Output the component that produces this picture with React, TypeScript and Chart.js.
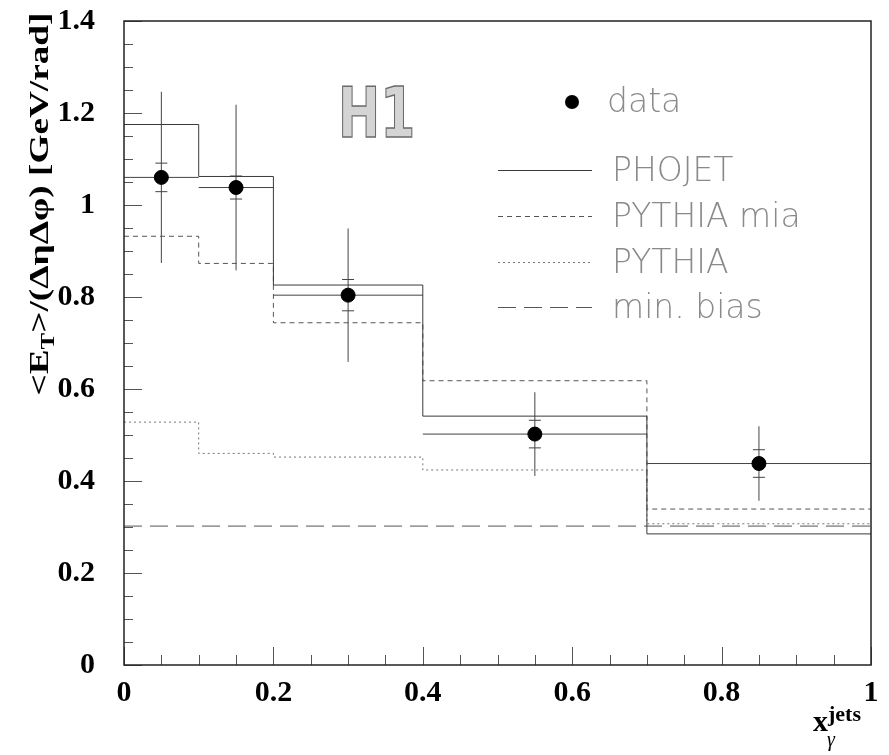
import React, { useEffect, useRef } from 'react';
import { Chart, registerables } from 'chart.js';

Chart.register(...registerables);

// ---- data ----
const binEdges = [0, 0.1, 0.2, 0.4, 0.7, 1.0];
const phojet = [1.175, 1.062, 0.826, 0.541, 0.285];
const pythiaMia = [0.932, 0.873, 0.744, 0.618, 0.339];
const pythia = [0.528, 0.46, 0.452, 0.424, 0.307];
const minBias = [0.302, 0.302, 0.302, 0.302, 0.302];

const dataX = [0.05, 0.15, 0.3, 0.55, 0.85];
const dataY = [1.06, 1.038, 0.804, 0.502, 0.438];
const statErr = [0.031, 0.025, 0.034, 0.03, 0.03];
const totErr = [0.186, 0.18, 0.145, 0.091, 0.081];

const xTickValues = [0, 0.2, 0.4, 0.6, 0.8, 1.0];
const yTickValues = [0, 0.2, 0.4, 0.6, 0.8, 1.0, 1.2, 1.4];
const seriesNames = ['data', 'PHOJET', 'PYTHIA mia', 'PYTHIA', 'min. bias'];

const histPoints = (vals: number[]) =>
  binEdges.map((e, i) => ({ x: e, y: vals[Math.min(i, vals.length - 1)] }));

const lineStyles = [
  { color: '#3a3a3a', dash: [] as number[], width: 1 },
  { color: '#555555', dash: [5, 4], width: 1 },
  { color: '#777777', dash: [2, 3], width: 1 },
  { color: '#555555', dash: [18, 8], width: 1 },
];

const fmt = (v: number) => String(Math.round(v * 10) / 10);

const decorPlugin = {
  id: 'decor',
  beforeDatasetsDraw(chart: any) {
    const ctx = chart.ctx;
    const xs = chart.scales.x;
    const ys = chart.scales.y;
    ctx.save();
    ctx.strokeStyle = '#444';
    ctx.lineWidth = 1;
    for (let i = 0; i < dataX.length; i++) {
      const px = xs.getPixelForValue(dataX[i]);
      const py = ys.getPixelForValue(dataY[i]);
      const xl = xs.getPixelForValue(binEdges[i]);
      const xh = xs.getPixelForValue(binEdges[i + 1]);
      const yt1 = ys.getPixelForValue(dataY[i] + totErr[i]);
      const yt0 = ys.getPixelForValue(dataY[i] - totErr[i]);
      const ys1 = ys.getPixelForValue(dataY[i] + statErr[i]);
      const ys0 = ys.getPixelForValue(dataY[i] - statErr[i]);
      ctx.beginPath();
      ctx.moveTo(xl, py); ctx.lineTo(xh, py);
      ctx.moveTo(px, yt1); ctx.lineTo(px, yt0);
      ctx.moveTo(px - 6, ys1); ctx.lineTo(px + 6, ys1);
      ctx.moveTo(px - 6, ys0); ctx.lineTo(px + 6, ys0);
      ctx.stroke();
    }
    ctx.restore();
  },
  afterDraw(chart: any) {
    const ctx = chart.ctx;
    const area = chart.chartArea;
    const xs = chart.scales.x;
    const ys = chart.scales.y;
    ctx.save();
    // ticks (inside)
    ctx.strokeStyle = '#555';
    ctx.lineWidth = 1;
    ctx.beginPath();
    for (let k = 0; k <= 28; k++) {
      const v = k * 0.05;
      const py = Math.round(ys.getPixelForValue(v)) + 0.5;
      const len = k % 4 === 0 ? 18 : 9;
      ctx.moveTo(area.left, py); ctx.lineTo(area.left + len, py);
    }
    for (let k = 0; k <= 20; k++) {
      const v = k * 0.05;
      const px = Math.round(xs.getPixelForValue(v)) + 0.5;
      const len = k % 4 === 0 ? 18 : 10;
      ctx.moveTo(px, area.bottom); ctx.lineTo(px, area.bottom - len);
    }
    ctx.stroke();
    // frame
    ctx.strokeStyle = '#222';
    ctx.lineWidth = 1.5;
    ctx.strokeRect(area.left, area.top, area.right - area.left, area.bottom - area.top);

    // H1 logo
    ctx.save();
    ctx.translate(338, 137);
    ctx.scale(0.72, 1);
    ctx.font = 'bold 70px "DejaVu Sans", "Liberation Sans", sans-serif';
    ctx.textBaseline = 'alphabetic';
    ctx.textAlign = 'left';
    ctx.fillStyle = '#d4d4d4';
    ctx.strokeStyle = '#6a6a6a';
    ctx.lineWidth = 1.4;
    ctx.fillText('H1', 0, 0);
    ctx.strokeText('H1', 0, 0);
    ctx.restore();

    // legend
    ctx.font = '200 33px "DejaVu Sans", "Liberation Sans", sans-serif';
    ctx.textBaseline = 'middle';
    ctx.textAlign = 'left';
    ctx.beginPath();
    ctx.fillStyle = '#000';
    ctx.arc(572, 102, 7, 0, Math.PI * 2);
    ctx.fill();
    ctx.fillStyle = '#8a8a8a';
    ctx.fillText(chart.data.datasets[0].label, 607, 103);
    const ly = [170, 216, 262, 307];
    for (let i = 0; i < 4; i++) {
      const st = lineStyles[i];
      ctx.strokeStyle = st.color;
      ctx.lineWidth = st.width;
      ctx.setLineDash(st.dash);
      ctx.beginPath();
      ctx.moveTo(498, ly[i] + 0.5);
      ctx.lineTo(592, ly[i] + 0.5);
      ctx.stroke();
      ctx.setLineDash([]);
      ctx.fillText(chart.data.datasets[i + 1].label, 612, ly[i] + 2);
    }

    // y-axis title (rotated)
    ctx.save();
    ctx.translate(48, 204);
    ctx.rotate(-Math.PI / 2);
    ctx.fillStyle = '#000';
    ctx.textBaseline = 'alphabetic';
    const big = 'bold 27px "Liberation Serif", "DejaVu Serif", serif';
    const small = 'bold 18px "Liberation Serif", "DejaVu Serif", serif';
    const parts = [
      { t: '<E', f: big, dy: 0 },
      { t: 'T', f: small, dy: 6 },
      { t: '>/(ΔηΔφ) [GeV/rad]', f: big, dy: 0 },
    ];
    let total = 0;
    for (const p of parts) { ctx.font = p.f; total += ctx.measureText(p.t).width; }
    const k = 383 / total;
    ctx.scale(k, 1);
    let cx = -total / 2;
    for (const p of parts) {
      ctx.font = p.f;
      ctx.fillText(p.t, cx, p.dy);
      cx += ctx.measureText(p.t).width;
    }
    ctx.restore();

    // x-axis title
    ctx.fillStyle = '#000';
    ctx.textBaseline = 'alphabetic';
    ctx.textAlign = 'left';
    ctx.font = 'bold 30px "Liberation Serif", "DejaVu Serif", serif';
    ctx.fillText('x', 813, 731);
    ctx.font = 'bold 22px "Liberation Serif", "DejaVu Serif", serif';
    ctx.fillText('jets', 828, 721);
    ctx.font = 'italic 20px "Liberation Serif", "DejaVu Serif", serif';
    ctx.fillText('γ', 827, 746);
    ctx.restore();
  },
};

export default function App() {
  const ref = useRef<HTMLCanvasElement | null>(null);
  useEffect(() => {
    document.body.style.margin = '0';
    const canvas = ref.current;
    if (!canvas) return;
    const tickFont = { family: '"Liberation Serif", "DejaVu Serif", serif', weight: 'bold' as const, size: 30 };
    const chart = new Chart(canvas, {
      type: 'scatter',
      data: {
        datasets: [
          {
            label: seriesNames[0],
            data: dataX.map((x, i) => ({ x, y: dataY[i] })),
            pointRadius: 7,
            pointBackgroundColor: '#000',
            pointBorderColor: '#000',
            showLine: false,
          },
          ...[phojet, pythiaMia, pythia, minBias].map((vals, i) => ({
            type: 'line' as const,
            label: seriesNames[i + 1],
            data: histPoints(vals),
            stepped: 'before' as const,
            borderColor: lineStyles[i].color,
            borderWidth: lineStyles[i].width,
            borderDash: lineStyles[i].dash,
            pointRadius: 0,
            fill: false,
          })),
        ],
      },
      options: {
        responsive: false,
        animation: false,
        devicePixelRatio: 1,
        layout: { padding: { top: 21, right: 18, left: 0, bottom: 0 } },
        plugins: { legend: { display: false }, tooltip: { enabled: false }, title: { display: false } },
        scales: {
          x: {
            type: 'linear',
            min: 0,
            max: 1,
            grid: { display: false },
            border: { display: false },
            afterBuildTicks: (s: any) => { s.ticks = xTickValues.map((v) => ({ value: v })); },
            afterFit: (s: any) => { s.height = 90; s.paddingLeft = 0; s.paddingRight = 0; },
            ticks: { font: tickFont, color: '#000', padding: 2, maxRotation: 0, callback: (v: any) => fmt(Number(v)) },
          },
          y: {
            type: 'linear',
            min: 0,
            max: 1.4,
            grid: { display: false },
            border: { display: false },
            afterBuildTicks: (s: any) => { s.ticks = yTickValues.map((v) => ({ value: v })); },
            afterFit: (s: any) => { s.width = 124; s.paddingTop = 0; s.paddingBottom = 0; },
            ticks: { font: tickFont, color: '#000', padding: 21, callback: (v: any) => fmt(Number(v)) },
          },
        },
      },
      plugins: [decorPlugin],
    } as any);
    return () => chart.destroy();
  }, []);
  return <canvas ref={ref} width={889} height={755} style={{ display: 'block' }} />;
}
